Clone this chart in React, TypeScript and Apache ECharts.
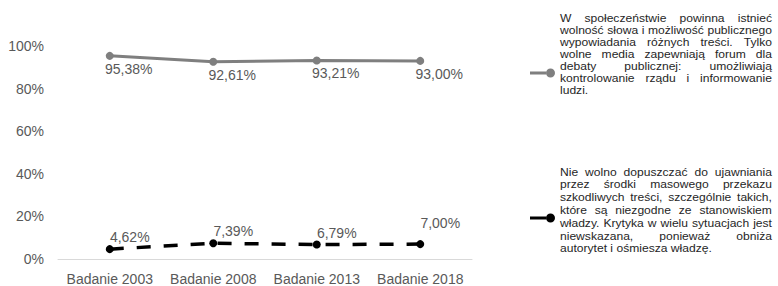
import React, { useEffect, useRef } from "react";
import * as echarts from "echarts";

const categories = ["Badanie 2003", "Badanie 2008", "Badanie 2013", "Badanie 2018"];
const freedomValues = [95.38, 92.61, 93.21, 93.0];
const restrictionValues = [4.62, 7.39, 6.79, 7.0];
const yMin = 0;
const yMax = 100;
const yInterval = 20;

const freedomName =
  "W społeczeństwie powinna istnieć wolność słowa i możliwość publicznego wypowiadania różnych treści. Tylko wolne media zapewniają forum dla debaty publicznej: umożliwiają kontrolowanie rządu i informowanie ludzi.";
const restrictionName =
  "Nie wolno dopuszczać do ujawniania przez środki masowego przekazu szkodliwych treści, szczególnie takich, które są niezgodne ze stanowiskiem władzy. Krytyka w wielu sytuacjach jest niewskazana, ponieważ obniża autorytet i ośmiesza władzę.";

const freedomLines = [
  "W społeczeństwie powinna istnieć",
  "wolność słowa i możliwość publicznego",
  "wypowiadania różnych treści. Tylko",
  "wolne media zapewniają forum dla",
  "debaty publicznej: umożliwiają",
  "kontrolowanie rządu i informowanie",
  "ludzi.",
];
const restrictionLines = [
  "Nie wolno dopuszczać do ujawniania",
  "przez środki masowego przekazu",
  "szkodliwych treści, szczególnie takich,",
  "które są niezgodne ze stanowiskiem",
  "władzy. Krytyka w wielu sytuacjach jest",
  "niewskazana, ponieważ obniża",
  "autorytet i ośmiesza władzę.",
];

// vertical nudges of the black series' value labels (style only)
const restrictionLabelDy = [4, 4, 4, -5];

const FONT_FAMILY = "'Liberation Sans', Arial, sans-serif";
const LEGEND_FONT_SIZE = 11;
const LEGEND_STRETCH = 1.1;

function measure(text: string, ctx: CanvasRenderingContext2D | null) {
  if (!ctx) return text.length * 5.5;
  return ctx.measureText(text).width;
}

function justifiedBlock(lines: string[], left: number, width: number, top: number, lineH: number) {
  const canvas = document.createElement("canvas");
  const ctx = canvas.getContext("2d");
  if (ctx) ctx.font = `${LEGEND_FONT_SIZE}px ${FONT_FAMILY}`;
  const els: any[] = [];
  const mk = (text: string, x: number, y: number) => ({
    type: "text",
    x,
    y,
    scaleX: LEGEND_STRETCH,
    silent: true,
    style: {
      text,
      fill: "#262626",
      fontSize: LEGEND_FONT_SIZE,
      lineHeight: LEGEND_FONT_SIZE,
      fontFamily: FONT_FAMILY,
      verticalAlign: "middle",
      align: "left",
    },
  });
  lines.forEach((line, li) => {
    const y = top + li * lineH;
    const words = line.split(" ");
    const isLast = li === lines.length - 1;
    if (isLast || words.length === 1) {
      els.push(mk(line, left, y));
      return;
    }
    const widths = words.map((w) => measure(w, ctx) * LEGEND_STRETCH);
    const total = widths.reduce((a, b) => a + b, 0);
    const gap = Math.max(2, (width - total) / (words.length - 1));
    let x = left;
    words.forEach((w, wi) => {
      els.push(mk(w, x, y));
      x += widths[wi] + gap;
    });
  });
  return els;
}

const legendIcon =
  "path://M0,3.6 L16,3.6 L16,6.4 L0,6.4 Z M16,5 A4.5,4.5 0 1,1 25,5 A4.5,4.5 0 1,1 16,5 Z";

const fmt = (v: number) => v.toFixed(2).replace(".", ",") + "%";

export default function App() {
  const ref = useRef<HTMLDivElement>(null);
  useEffect(() => {
    if (!ref.current) return;
    const chart = echarts.init(ref.current, undefined, { renderer: "svg" });
    const graphics = [
      ...justifiedBlock(freedomLines, 560, 212, 18.3, 11.9),
      ...justifiedBlock(restrictionLines, 560, 212, 171.7, 12.8),
    ];
    chart.setOption({
      animation: false,
      backgroundColor: "#ffffff",
      grid: { left: 58, right: 306, top: 46, bottom: 27, containLabel: false },
      xAxis: {
        type: "category",
        data: categories,
        boundaryGap: true,
        axisLine: { show: true, lineStyle: { color: "#d9d9d9", width: 1 } },
        axisTick: { show: false },
        axisLabel: {
          interval: 0,
          color: "#595959",
          fontSize: 14,
          fontFamily: FONT_FAMILY,
          margin: 13,
        },
        splitLine: { show: false },
      },
      yAxis: {
        type: "value",
        min: yMin,
        max: yMax,
        interval: yInterval,
        axisLine: { show: false },
        axisTick: { show: false },
        splitLine: { show: false },
        axisLabel: {
          color: "#595959",
          fontSize: 14,
          fontFamily: FONT_FAMILY,
          margin: 14,
          formatter: (v: number) => `${v}%`,
        },
      },
      legend: [
        {
          data: [{ name: freedomName, icon: legendIcon }],
          left: 525,
          top: 63,
          itemWidth: 25,
          itemHeight: 10,
          formatter: () => "",
          selectedMode: false,
          textStyle: { fontSize: 1 },
        },
        {
          data: [{ name: restrictionName, icon: legendIcon }],
          left: 525,
          top: 208,
          itemWidth: 25,
          itemHeight: 10,
          formatter: () => "",
          selectedMode: false,
          textStyle: { fontSize: 1 },
        },
      ],
      series: [
        {
          name: freedomName,
          type: "line",
          data: freedomValues,
          symbol: "circle",
          symbolSize: 8,
          color: "#7f7f7f",
          itemStyle: { color: "#7f7f7f" },
          lineStyle: { color: "#7f7f7f", width: 3 },
          label: {
            show: true,
            position: "bottom",
            offset: [19, -3],
            color: "#595959",
            fontSize: 14,
            fontFamily: FONT_FAMILY,
            formatter: (p: any) => fmt(p.value),
          },
        },
        {
          name: restrictionName,
          type: "line",
          data: restrictionValues.map((v, i) => ({
            value: v,
            label: { offset: [20, restrictionLabelDy[i]] },
          })),
          symbol: "circle",
          symbolSize: 8,
          color: "#000000",
          itemStyle: { color: "#000000" },
          lineStyle: { color: "#000000", width: 3.5, type: [14, 13] },
          label: {
            show: true,
            position: "top",
            color: "#595959",
            fontSize: 14,
            fontFamily: FONT_FAMILY,
            formatter: (p: any) => fmt(p.value),
          },
        },
      ],
      graphic: graphics,
    });
    return () => chart.dispose();
  }, []);
  return <div ref={ref} style={{ width: 778, height: 286, position: "absolute", left: 0, top: 0 }} />;
}
